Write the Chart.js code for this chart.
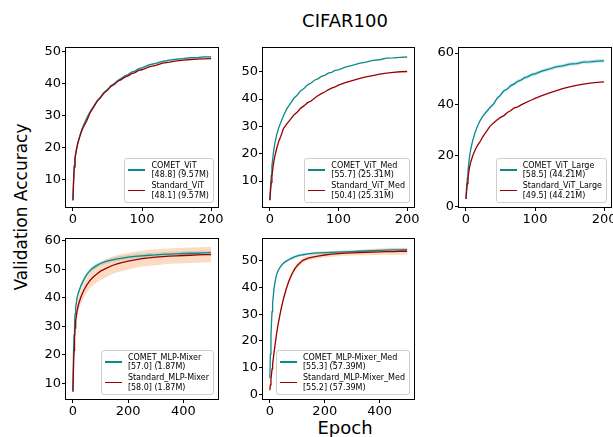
<!DOCTYPE html>
<html>
<head>
<meta charset="utf-8">
<script src="https://cdn.jsdelivr.net/npm/chart.js@4.4.1/dist/chart.umd.min.js"></script>
<style>
html, body { margin: 0; padding: 0; background: #fff; overflow: hidden; }
#fig { position: relative; width: 613px; height: 437px; font-family: 'DejaVu Sans', sans-serif; color: #000; }
#fig canvas { position: absolute; }
.lbl { position: absolute; white-space: nowrap; line-height: 1; }
.leg { position: absolute; background: rgba(255,255,255,0.8); border: 1px solid #cfcfcf; border-radius: 3px;
       padding: 2px 4px 2px 2px; font-size: 8px; line-height: 9.3px; white-space: nowrap; }
.row { display: flex; align-items: center; }
.row + .row { margin-top: 2px; }
.hd { width: 17px; height: 1.5px; margin: 0 6px 0 1px; flex: none; }
</style>
</head>
<body>
<div id="fig">
  <div class="lbl" style="left:0;width:690px;top:12px;text-align:center;font-size:18px">CIFAR100</div>
  <div class="lbl" style="left:21px;top:207px;font-size:17px;transform:translate(-50%,-50%) rotate(-90deg)">Validation Accuracy</div>
  <div class="lbl" style="left:0;width:690px;top:419px;text-align:center;font-size:18px">Epoch</div>
</div>
<script>
// --- Data ---
const epochsViT = [0,1,2,3,5,7,10,13,16,20,25,30,35,40,45,50,55,60,65,70,75,80,85,90,95,100,110,120,130,140,150,160,170,180,190,200];
const epochsMixer = [0,2,4,6,8,10,15,20,25,30,40,50,60,70,80,90,100,120,140,160,180,200,225,250,275,300,325,350,375,400,425,450,475,500];

// ViT
const cometViT    = [3.8,10.0,14.5,17.0,19.5,21.5,23.8,25.8,27.4,29.3,31.3,33.0,34.7,35.9,37.3,38.2,39.4,40.1,41.0,41.7,42.4,42.9,43.7,44.0,44.7,45.0,45.9,46.4,47.0,47.4,47.7,47.9,48.2,48.2,48.4,48.4];
const standardViT = [3.5,9.5,14.0,16.5,19.2,21.3,23.5,25.4,26.8,28.4,31.0,32.7,34.5,35.7,37.1,38.0,39.2,39.8,40.8,41.3,42.1,42.5,43.2,43.5,44.2,44.4,45.3,45.8,46.5,46.8,47.2,47.4,47.6,47.7,47.8,47.9];
const cometViTBand = [0.1,0.2,0.2,0.2,0.2,0.2,0.3,0.3,0.3,0.3,0.3,0.3,0.3,0.3,0.3,0.3,0.3,0.3,0.3,0.3,0.3,0.3,0.3,0.3,0.3,0.3,0.3,0.3,0.3,0.3,0.3,0.3,0.3,0.3,0.3,0.3];

// ViT_Med
const cometViTMed    = [3.0,8.0,12.0,15.5,20.0,23.5,27.0,29.6,31.5,34.0,36.6,38.4,40.3,41.5,43.1,44.0,45.2,45.9,46.9,47.4,48.3,48.7,49.5,49.8,50.5,50.7,51.7,52.3,53.1,53.5,54.2,54.4,55.0,55.1,55.3,55.4];
const standardViTMed = [3.0,6.5,9.5,12.0,15.8,18.8,22.0,24.6,26.4,29.3,31.0,32.6,34.2,35.3,36.7,37.6,38.7,39.3,40.3,41.2,42.0,42.6,43.4,44.0,44.5,45.1,46.0,46.8,47.5,48.1,48.6,49.1,49.5,49.8,50.0,50.1];

// ViT_Large
const cometViTLarge    = [3.0,7.5,11.0,14.0,19.0,22.5,26.0,28.8,31.0,33.4,35.6,37.2,38.8,40.1,42.3,43.6,45.3,46.0,47.3,48.0,49.0,49.5,50.4,50.8,51.6,51.9,53.0,53.7,54.6,55.0,55.7,55.9,56.5,56.6,56.9,57.0];
const standardViTLarge = [3.0,6.0,9.0,11.5,15.0,17.5,20.0,22.0,23.6,25.2,27.6,29.5,31.5,32.7,33.9,34.9,35.6,36.8,37.6,38.6,39.0,39.8,40.5,41.1,41.7,42.3,43.4,44.4,45.3,46.1,46.8,47.4,47.9,48.3,48.6,48.8];
const cometViTLargeBand = [0.2,0.3,0.3,0.3,0.4,0.4,0.4,0.5,0.5,0.5,0.5,0.6,0.6,0.6,0.6,0.7,0.7,0.7,0.7,0.7,0.7,0.7,0.7,0.7,0.7,0.7,0.7,0.7,0.7,0.7,0.7,0.7,0.7,0.7,0.7,0.7];

// MLP-Mixer
const cometMixer    = [7.5,20.0,27.0,31.5,34.5,36.5,40.0,41.8,43.2,44.5,46.5,48.2,49.4,50.3,51.0,51.6,52.1,52.8,53.3,53.7,54.0,54.3,54.6,54.8,55.0,55.1,55.3,55.4,55.5,55.6,55.7,55.7,55.8,55.9];
const standardMixer = [7.0,15.0,21.5,26.0,29.5,31.8,35.5,37.6,39.2,40.6,42.8,44.5,45.9,47.0,47.9,48.7,49.4,50.4,51.3,52.0,52.5,52.9,53.4,53.8,54.1,54.3,54.5,54.7,54.8,54.9,55.0,55.1,55.2,55.2];
const cometMixerBand    = [0.5,1.0,1.0,1.0,1.0,1.0,1.0,0.9,0.9,0.9,0.9,0.9,0.8,0.8,0.8,0.8,0.8,0.8,0.8,0.8,0.8,0.8,0.8,0.8,0.8,0.8,0.8,0.8,0.8,0.8,0.8,0.8,0.8,0.8];
const standardMixerBand = [1.0,2.0,2.2,2.3,2.4,2.4,2.5,2.5,2.5,2.5,2.5,2.6,2.7,2.8,2.9,3.0,3.1,3.1,3.1,3.0,3.0,2.9,2.9,2.8,2.8,2.8,2.8,2.7,2.7,2.7,2.7,2.7,2.7,2.7];

// MLP-Mixer_Med
const cometMixerMed    = [6.0,15.0,22.0,27.0,31.0,34.0,39.5,42.8,45.0,46.4,48.0,49.2,49.9,50.5,51.0,51.5,51.9,52.3,52.6,52.9,53.0,53.1,53.2,53.3,53.4,53.5,53.6,53.7,53.8,53.9,54.0,54.1,54.1,54.2];
const standardMixerMed = [1.5,3.5,5.5,7.5,9.5,11.2,15.5,19.3,23.0,26.2,31.5,36.0,39.6,42.6,45.0,46.9,48.3,50.2,51.0,51.5,51.9,52.2,52.5,52.7,52.9,53.0,53.1,53.2,53.3,53.4,53.5,53.5,53.6,53.6];
const cometMixerMedBand    = [0.3,0.6,0.7,0.7,0.7,0.7,0.6,0.6,0.5,0.5,0.5,0.5,0.5,0.5,0.5,0.5,0.5,0.5,0.5,0.5,0.5,0.5,0.5,0.5,0.5,0.5,0.5,0.5,0.5,0.5,0.5,0.5,0.5,0.5];
const standardMixerMedBand = [0.3,0.5,0.6,0.7,0.8,0.8,0.9,1.0,1.0,1.0,1.0,1.0,1.0,1.0,1.0,1.0,1.0,0.9,0.9,0.9,0.9,0.9,1.0,1.0,1.0,1.0,1.1,1.1,1.2,1.2,1.2,1.3,1.3,1.3];

// Legend texts
const cometNames = ['COMET_ViT','COMET_ViT_Med','COMET_ViT_Large','COMET_MLP-Mixer','COMET_MLP-Mixer_Med'];
const standardNames = ['Standard_ViT','Standard_ViT_Med','Standard_ViT_Large','Standard_MLP-Mixer','Standard_MLP-Mixer_Med'];
const cometBest = ['48.8','55.7','58.5','57.0','55.3'];
const standardBest = ['48.1','50.4','49.5','58.0','55.2'];
const paramCounts = ['9.57M','25.31M','44.21M','1.87M','57.39M'];

// Axis ticks
const xTicksViT = [0,100,200];
const xTicksMixer = [0,200,400];

// --- Styling ---
const COMET_COLOR = '#0b8a8a';
const STD_COLOR = '#9a0000';
const COMET_BAND = 'rgba(40,170,200,0.28)';
const STD_BAND = 'rgba(250,160,95,0.38)';

Chart.defaults.font.family = "'DejaVu Sans', sans-serif";

// panel boxes are [left, top, right, bottom] of the axes frame in page px
const panels = [
    { box: [66, 48, 218, 207],  xr: [-10, 210], xt: xTicksViT, yr: [1.5, 51.2], yt: [10,20,30,40,50],
      ep: epochsViT, comet: cometViT, std: standardViT, cometBand: cometViTBand, stdBand: null },
    { box: [263, 48, 414, 207], xr: [-10, 210], xt: xTicksViT, yr: [0.5, 58.7], yt: [10,20,30,40,50],
      ep: epochsViT, comet: cometViTMed, std: standardViTMed, cometBand: null, stdBand: null },
    { box: [459, 48, 611, 207], xr: [-10, 210], xt: xTicksViT, yr: [-0.1, 62], yt: [0,20,40,60],
      ep: epochsViT, comet: cometViTLarge, std: standardViTLarge, cometBand: cometViTLargeBand, stdBand: null },
    { box: [66, 239, 218, 399], xr: [-25, 525], xt: xTicksMixer, yr: [4.5, 60.7], yt: [10,20,30,40,50,60],
      ep: epochsMixer, comet: cometMixer, std: standardMixer, cometBand: cometMixerBand, stdBand: standardMixerBand },
    { box: [263, 239, 414, 399], xr: [-25, 525], xt: xTicksMixer, yr: [-1.8, 58.2], yt: [0,10,20,30,40,50],
      ep: epochsMixer, comet: cometMixerMed, std: standardMixerMed, cometBand: cometMixerMedBand, stdBand: standardMixerMedBand }
];

const PAD_L = 45, PAD_T = 8, PAD_R = 8, PAD_B = 25;

// draws the full axes box (all four spines)
const framePlugin = {
    id: 'frame',
    afterDraw(chart) {
        const a = chart.chartArea, ctx = chart.ctx;
        ctx.save();
        ctx.strokeStyle = '#000';
        ctx.lineWidth = 1;
        ctx.strokeRect(a.left - 0.5, a.top - 0.5, a.right - a.left + 1, a.bottom - a.top + 1);
        ctx.restore();
    }
};

function pts(xs, ys) {
    return xs.map((x, i) => ({ x: x, y: ys[i] }));
}

function bandSets(xs, ys, spread, color) {
    return [
        { data: pts(xs, ys.map((v, i) => v + spread[i])), borderWidth: 0, pointRadius: 0, fill: false },
        { data: pts(xs, ys.map((v, i) => v - spread[i])), borderWidth: 0, pointRadius: 0, fill: '-1', backgroundColor: color }
    ];
}

function axis(range, ticks, isX) {
    return {
        type: 'linear',
        min: range[0],
        max: range[1],
        afterBuildTicks: a => { a.ticks = ticks.map(v => ({ value: v })); },
        afterFit: a => {
            if (isX) { a.height = PAD_B; a.paddingLeft = 0; a.paddingRight = 0; }
            else { a.width = PAD_L; a.paddingTop = 0; a.paddingBottom = 0; }
        },
        grid: { drawOnChartArea: false, drawTicks: true, tickLength: 4, color: '#000', lineWidth: 1 },
        border: { display: false },
        ticks: { color: '#000', font: { size: 13 }, padding: 1, autoSkip: false, maxRotation: 0 }
    };
}

const fig = document.getElementById('fig');

panels.forEach((p, i) => {
    const [l, t, r, b] = p.box;
    const w = (r - l) + PAD_L + PAD_R;
    const h = (b - t) + PAD_T + PAD_B;
    const cv = document.createElement('canvas');
    cv.width = w; cv.height = h;
    cv.style.width = w + 'px'; cv.style.height = h + 'px';
    cv.style.left = (l - PAD_L) + 'px';
    cv.style.top = (t - PAD_T) + 'px';
    fig.appendChild(cv);

    // first dataset is drawn on top
    let datasets = [
        { data: pts(p.ep, p.std), borderColor: STD_COLOR, borderWidth: 1.3, pointRadius: 0, fill: false },
        { data: pts(p.ep, p.comet), borderColor: COMET_COLOR, borderWidth: 1.3, pointRadius: 0, fill: false }
    ];
    if (p.stdBand) datasets = datasets.concat(bandSets(p.ep, p.std, p.stdBand, STD_BAND));
    if (p.cometBand) datasets = datasets.concat(bandSets(p.ep, p.comet, p.cometBand, COMET_BAND));

    new Chart(cv, {
        type: 'line',
        data: { datasets: datasets },
        options: {
            responsive: false,
            animation: false,
            devicePixelRatio: 1,
            layout: { padding: { left: 0, top: PAD_T, right: PAD_R, bottom: 0 } },
            plugins: { legend: { display: false }, tooltip: { enabled: false } },
            elements: { line: { tension: 0 }, point: { radius: 0 } },
            scales: { x: axis(p.xr, p.xt, true), y: axis(p.yr, p.yt, false) }
        },
        plugins: [framePlugin]
    });

    // legend inside the axes, lower right
    const leg = document.createElement('div');
    leg.className = 'leg';
    leg.style.right = (613 - r + 4) + 'px';
    leg.style.bottom = (437 - b + 4) + 'px';
    const entries = [
        [COMET_COLOR, cometNames[i], cometBest[i]],
        [STD_COLOR, standardNames[i], standardBest[i]]
    ];
    entries.forEach(e => {
        const row = document.createElement('div');
        row.className = 'row';
        const hd = document.createElement('span');
        hd.className = 'hd';
        hd.style.background = e[0];
        const tx = document.createElement('span');
        tx.innerHTML = e[1] + '<br>[' + e[2] + '] (' + paramCounts[i] + ')';
        row.appendChild(hd);
        row.appendChild(tx);
        leg.appendChild(row);
    });
    fig.appendChild(leg);
});
</script>
</body>
</html>
